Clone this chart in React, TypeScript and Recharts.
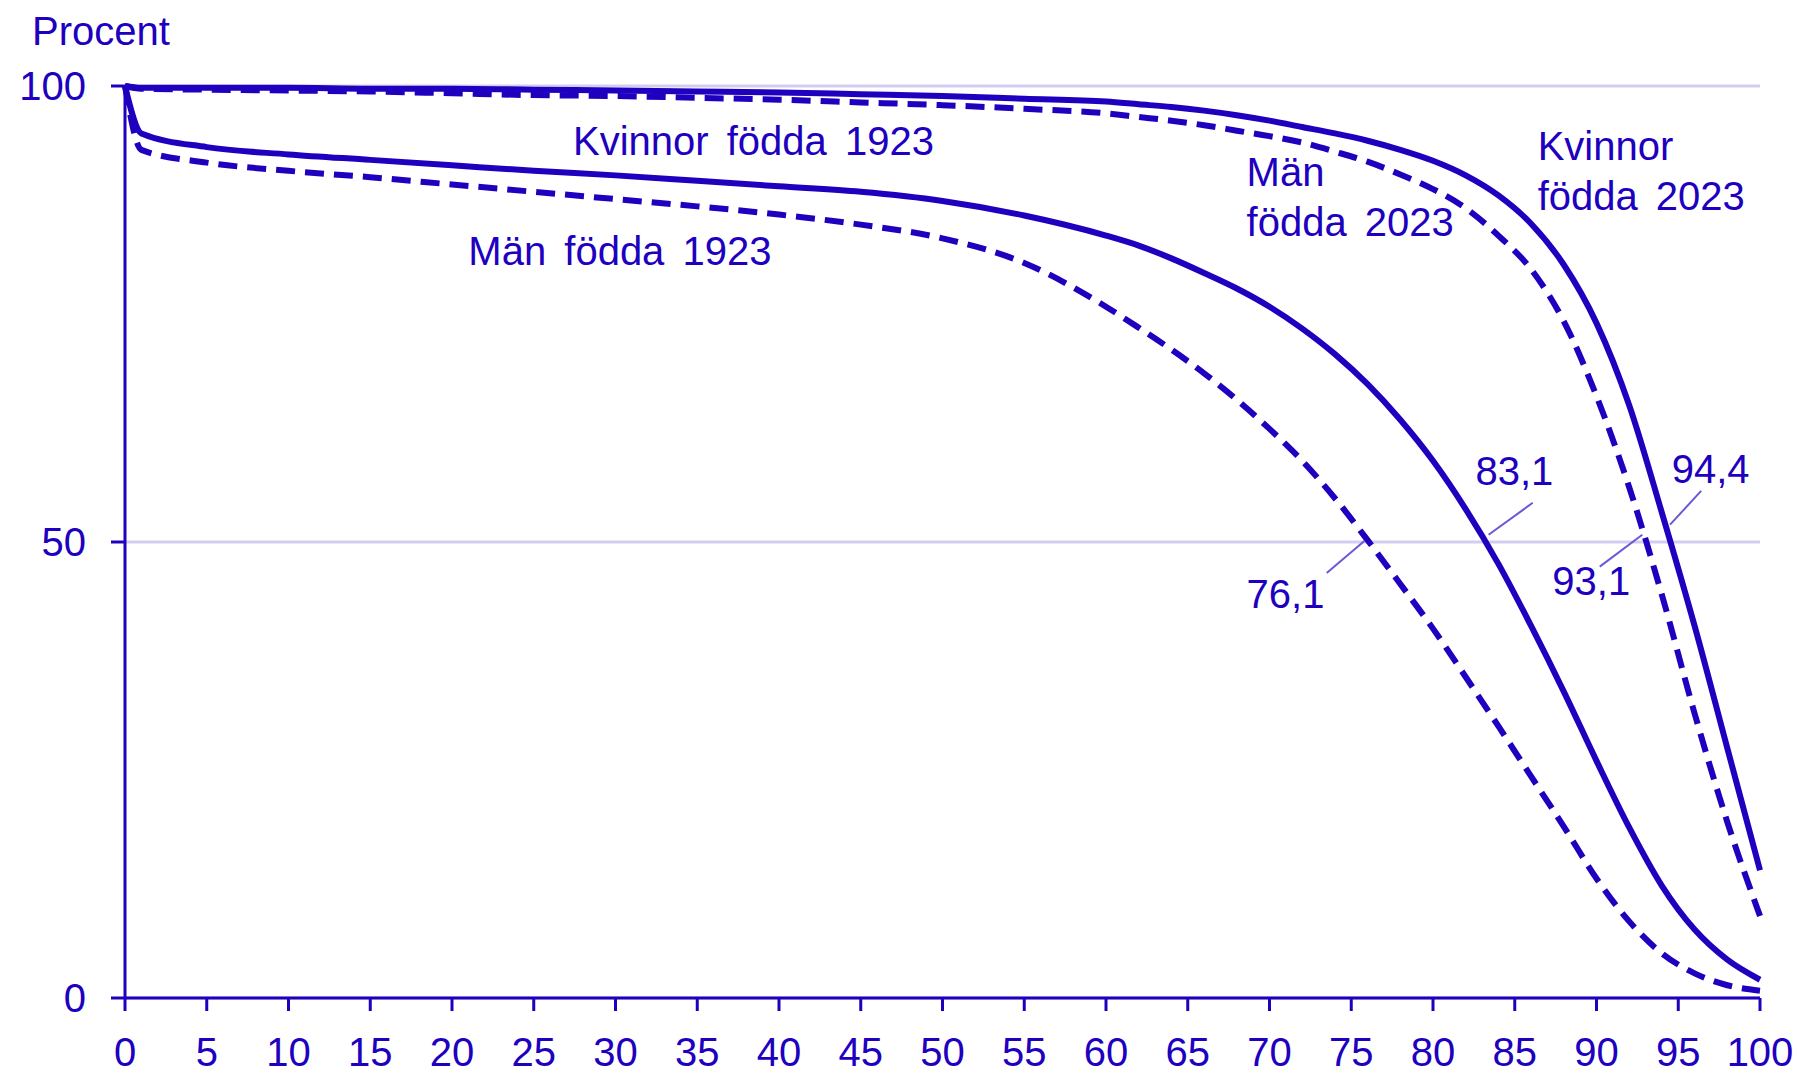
import { LineChart, Line, XAxis, YAxis, CartesianGrid, ReferenceLine, ReferenceDot } from 'recharts';

const ages = [0, 1, 5, 10, 15, 20, 25, 30, 35, 40, 45, 50, 55, 60, 62, 64, 66, 68, 70, 72, 74, 76, 78, 80, 82, 84, 86, 88, 90, 92, 94, 96, 98, 100];

// andel överlevande (procent)
const kvinnor2023 = [100, 99.8, 99.8, 99.8, 99.7, 99.7, 99.6, 99.5, 99.4, 99.3, 99.1, 98.9, 98.6, 98.3, 98.0, 97.7, 97.3, 96.8, 96.2, 95.5, 94.8, 94.0, 93.0, 91.8, 90.2, 88.0, 84.9, 80.4, 74.0, 65.0, 53.2, 40.8, 27.4, 14.0];
const man2023 = [100, 99.7, 99.6, 99.5, 99.4, 99.2, 99.0, 98.9, 98.7, 98.5, 98.2, 97.9, 97.5, 97.0, 96.6, 96.2, 95.7, 95.1, 94.5, 93.8, 92.8, 91.7, 90.3, 88.7, 86.6, 83.6, 79.9, 74.2, 66.0, 56.0, 44.2, 31.2, 19.3, 9.0];
const kvinnor1923 = [100, 94.8, 93.3, 92.5, 91.9, 91.3, 90.7, 90.2, 89.6, 89.0, 88.4, 87.4, 85.8, 83.6, 82.5, 81.1, 79.5, 77.8, 75.8, 73.4, 70.6, 67.3, 63.4, 58.9, 53.6, 47.6, 40.8, 33.6, 26.0, 18.7, 12.3, 7.5, 4.2, 2.0];
const man1923 = [100, 93.0, 91.6, 90.7, 90.0, 89.2, 88.4, 87.6, 86.8, 85.9, 84.8, 83.3, 80.6, 75.8, 73.5, 71.1, 68.5, 65.6, 62.4, 58.9, 54.8, 50.2, 45.4, 40.5, 35.2, 29.8, 24.3, 18.8, 13.1, 8.4, 4.9, 2.7, 1.4, 0.8];

const xTicks = [0, 5, 10, 15, 20, 25, 30, 35, 40, 45, 50, 55, 60, 65, 70, 75, 80, 85, 90, 95, 100];
const yTicks = [0, 50, 100];

// medianålder (50 % kvar)
const medians = [
  { value: '76,1', at: [75.8, 50.1], end: [73.5, 46.6], text: [68.6, 42.8] },
  { value: '83,1', at: [83.4, 50.8], end: [86.1, 54.3], text: [82.6, 56.3] },
  { value: '93,1', at: [92.8, 50.8], end: [90.2, 47.3], text: [87.3, 44.2] },
  { value: '94,4', at: [94.5, 51.9], end: [96.4, 55.6], text: [94.6, 56.5] },
];

const seriesLabels = [
  { lines: ['Kvinnor  födda  1923'], pos: [27.4, 92.4] },
  { lines: ['Män  födda  1923'], pos: [21.0, 80.4] },
  { lines: ['Män', 'födda  2023'], pos: [68.6, 89.0] },
  { lines: ['Kvinnor', 'födda  2023'], pos: [86.4, 91.9] },
];

const BLUE = '#2000BF';
const LEADER = '#6b58d6';
const FONT = '"Liberation Sans", Arial, sans-serif';

const data = ages.map((age, i) => ({
  age,
  k2023: kvinnor2023[i],
  m2023: man2023[i],
  k1923: kvinnor1923[i],
  m1923: man1923[i],
}));

const textShape = (lines: string[]) => (props: any) => (
  <text x={props.cx} y={props.cy} fill={BLUE} fontSize={40} fontFamily={FONT} style={{ wordSpacing: '7px' }}>
    {lines.map((l, i) => (
      <tspan key={i} x={props.cx} dy={i === 0 ? 0 : 50}>{l}</tspan>
    ))}
  </text>
);

export default function App() {
  return (
    <div style={{ position: 'absolute', left: 0, top: 0, width: 1802, height: 1074, background: '#fff' }}>
      <div style={{ position: 'absolute', left: 32, top: 11, fontFamily: FONT, fontSize: 40, lineHeight: '40px', color: BLUE }}>
        Procent
      </div>
      <LineChart width={1802} height={1074} data={data} margin={{ top: 86, right: 42, left: 0, bottom: 0 }}>
        <CartesianGrid vertical={false} stroke="#d3cdf3" strokeWidth={3} />
        <XAxis
          dataKey="age"
          type="number"
          domain={[0, 100]}
          ticks={xTicks}
          height={76}
          tickSize={13}
          tickMargin={27}
          axisLine={{ stroke: BLUE, strokeWidth: 3 }}
          tickLine={{ stroke: BLUE, strokeWidth: 3 }}
          tick={{ fill: BLUE, fontSize: 40, fontFamily: FONT }}
          interval={0}
        />
        <YAxis
          type="number"
          domain={[0, 100]}
          ticks={yTicks}
          width={125}
          tickSize={14}
          tickMargin={25}
          axisLine={{ stroke: BLUE, strokeWidth: 3 }}
          tickLine={{ stroke: BLUE, strokeWidth: 3 }}
          tick={{ fill: BLUE, fontSize: 40, fontFamily: FONT }}
          interval={0}
        />
        <Line type="monotone" dataKey="m1923" stroke={BLUE} strokeWidth={6} strokeDasharray="19 10" dot={false} isAnimationActive={false} />
        <Line type="monotone" dataKey="m2023" stroke={BLUE} strokeWidth={6} strokeDasharray="19 10" dot={false} isAnimationActive={false} />
        <Line type="monotone" dataKey="k1923" stroke={BLUE} strokeWidth={6} dot={false} isAnimationActive={false} />
        <Line type="monotone" dataKey="k2023" stroke={BLUE} strokeWidth={6} dot={false} isAnimationActive={false} />
        {medians.map((m) => (
          <ReferenceLine
            key={'l' + m.value}
            segment={[{ x: m.at[0], y: m.at[1] }, { x: m.end[0], y: m.end[1] }]}
            stroke={LEADER}
            strokeWidth={2}
          />
        ))}
        {medians.map((m) => (
          <ReferenceDot key={'t' + m.value} x={m.text[0]} y={m.text[1]} r={0} shape={textShape([m.value])} />
        ))}
        {seriesLabels.map((s) => (
          <ReferenceDot key={s.lines.join()} x={s.pos[0]} y={s.pos[1]} r={0} shape={textShape(s.lines)} />
        ))}
      </LineChart>
    </div>
  );
}
